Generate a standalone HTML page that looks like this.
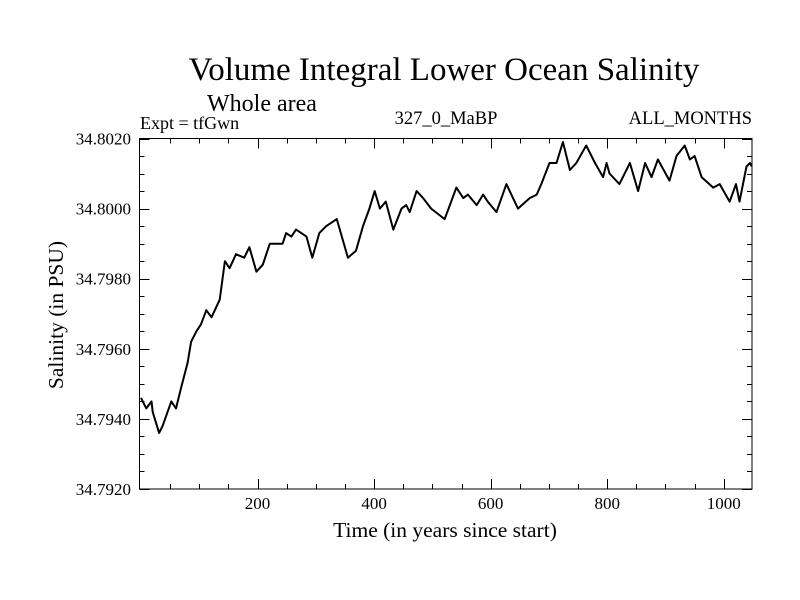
<!DOCTYPE html>
<html><head><meta charset="utf-8"><style>
body{margin:0;background:#fff;}
svg{display:block;font-family:"Liberation Serif",serif;}
</style></head><body>
<svg id="chart" width="800" height="600" viewBox="0 0 800 600">
<rect width="800" height="600" fill="#fff"/>
<text x="444" y="80" font-size="33" text-anchor="middle">Volume Integral Lower Ocean Salinity</text>
<text x="207" y="111" font-size="24">Whole area</text>
<text x="140" y="129" font-size="18">Expt = tfGwn</text>
<text x="446" y="124" font-size="18.5" text-anchor="middle">327_0_MaBP</text>
<text x="752" y="124" font-size="18.5" text-anchor="end">ALL_MONTHS</text>
<text x="445" y="537" font-size="21.5" text-anchor="middle">Time (in years since start)</text>
<text x="0" y="0" font-size="21.5" text-anchor="middle" transform="translate(63,315) rotate(-90)">Salinity (in PSU)</text>
<g id="axes"></g>
<g id="series"></g>
<rect x="139.5" y="138.5" width="612.5" height="350.5" fill="none" stroke="#000" stroke-width="1"/>
</svg>
<script>
const years = [0,9,18,20,31,37,52,60,69,80,86,95,103,112,121,135,144,152,163,177,186,198,209,221,232,243,249,258,266,284,294,306,318,336,355,369,381,392,401,410,420,433,447,455,461,473,484,498,521,530,541,553,561,576,587,595,610,627,647,667,679,687,701,713,724,736,747,764,779,793,799,804,821,839,853,865,876,887,907,919,933,942,950,962,982,993,1010,1021,1027,1039,1045,1048];
const salinity = [34.7946,34.7943,34.7945,34.7942,34.7936,34.7938,34.7945,34.7943,34.7949,34.7956,34.7962,34.7965,34.7967,34.7971,34.7969,34.7974,34.7985,34.7983,34.7987,34.7986,34.7989,34.7982,34.7984,34.7990,34.7990,34.7990,34.7993,34.7992,34.7994,34.7992,34.7986,34.7993,34.7995,34.7997,34.7986,34.7988,34.7995,34.8000,34.8005,34.8000,34.8002,34.7994,34.8000,34.8001,34.7999,34.8005,34.8003,34.8000,34.7997,34.8001,34.8006,34.8003,34.8004,34.8001,34.8004,34.8002,34.7999,34.8007,34.8000,34.8003,34.8004,34.8007,34.8013,34.8013,34.8019,34.8011,34.8013,34.8018,34.8013,34.8009,34.8013,34.8010,34.8007,34.8013,34.8005,34.8013,34.8009,34.8014,34.8008,34.8015,34.8018,34.8014,34.8015,34.8009,34.8006,34.8007,34.8002,34.8007,34.8002,34.8012,34.8013,34.8012];
const xTicks = [200,400,600,800,1000];
const yTicks = [34.7920,34.7940,34.7960,34.7980,34.8000,34.8020];

const L=139.5,R=752,T=138.5,B=489;
const X0=-2.6,X1=1048.5,Y0=34.7920,Y1=34.8020;
const xs=v=>L+(v-X0)/(X1-X0)*(R-L);
const ys=v=>B-(v-Y0)/(Y1-Y0)*(B-T);
const NS='http://www.w3.org/2000/svg';
const axes=document.getElementById('axes');
function line(x1,y1,x2,y2,name){
  const l=document.createElementNS(NS,'line');
  l.setAttribute('x1',x1);l.setAttribute('y1',y1);l.setAttribute('x2',x2);l.setAttribute('y2',y2);
  l.setAttribute('stroke','#000');l.setAttribute('stroke-width','1');
  
  
  axes.appendChild(l);
}
for(let v=50;v<X1;v+=50){
  const x=Math.round(xs(v))+0.5, len=(v%200===0)?10:5;
  line(x,B,x,B-len,'x-tick');line(x,T,x,T+len,'x-tick');
}
for(let i=0;i<=20;i++){
  const v=Y0+i*0.0005, y=Math.round(ys(v))+0.5, len=(i%4===0)?10:5;
  line(L,y,L+len,y,'y-tick');line(R,y,R-len,y,'y-tick');
}
xTicks.forEach(v=>{
  const t=document.createElementNS(NS,'text');
  t.setAttribute('x',xs(v));t.setAttribute('y',B+20);t.setAttribute('font-size','17');t.setAttribute('text-anchor','middle');
  t.textContent=v;
  
  
  axes.appendChild(t);
});
yTicks.forEach(v=>{
  const t=document.createElementNS(NS,'text');
  t.setAttribute('x',131);t.setAttribute('y',ys(v)+6);t.setAttribute('font-size','17');t.setAttribute('text-anchor','end');
  t.textContent=v.toFixed(4);
  
  
  axes.appendChild(t);
});
const p=document.createElementNS(NS,'polyline');
p.setAttribute('points',years.map((y,i)=>xs(y).toFixed(1)+','+ys(salinity[i]).toFixed(1)).join(' '));
p.setAttribute('fill','none');p.setAttribute('stroke','#000');p.setAttribute('stroke-width','2');p.setAttribute('stroke-linejoin','round');


document.getElementById('series').appendChild(p);
</script>
</body></html>
